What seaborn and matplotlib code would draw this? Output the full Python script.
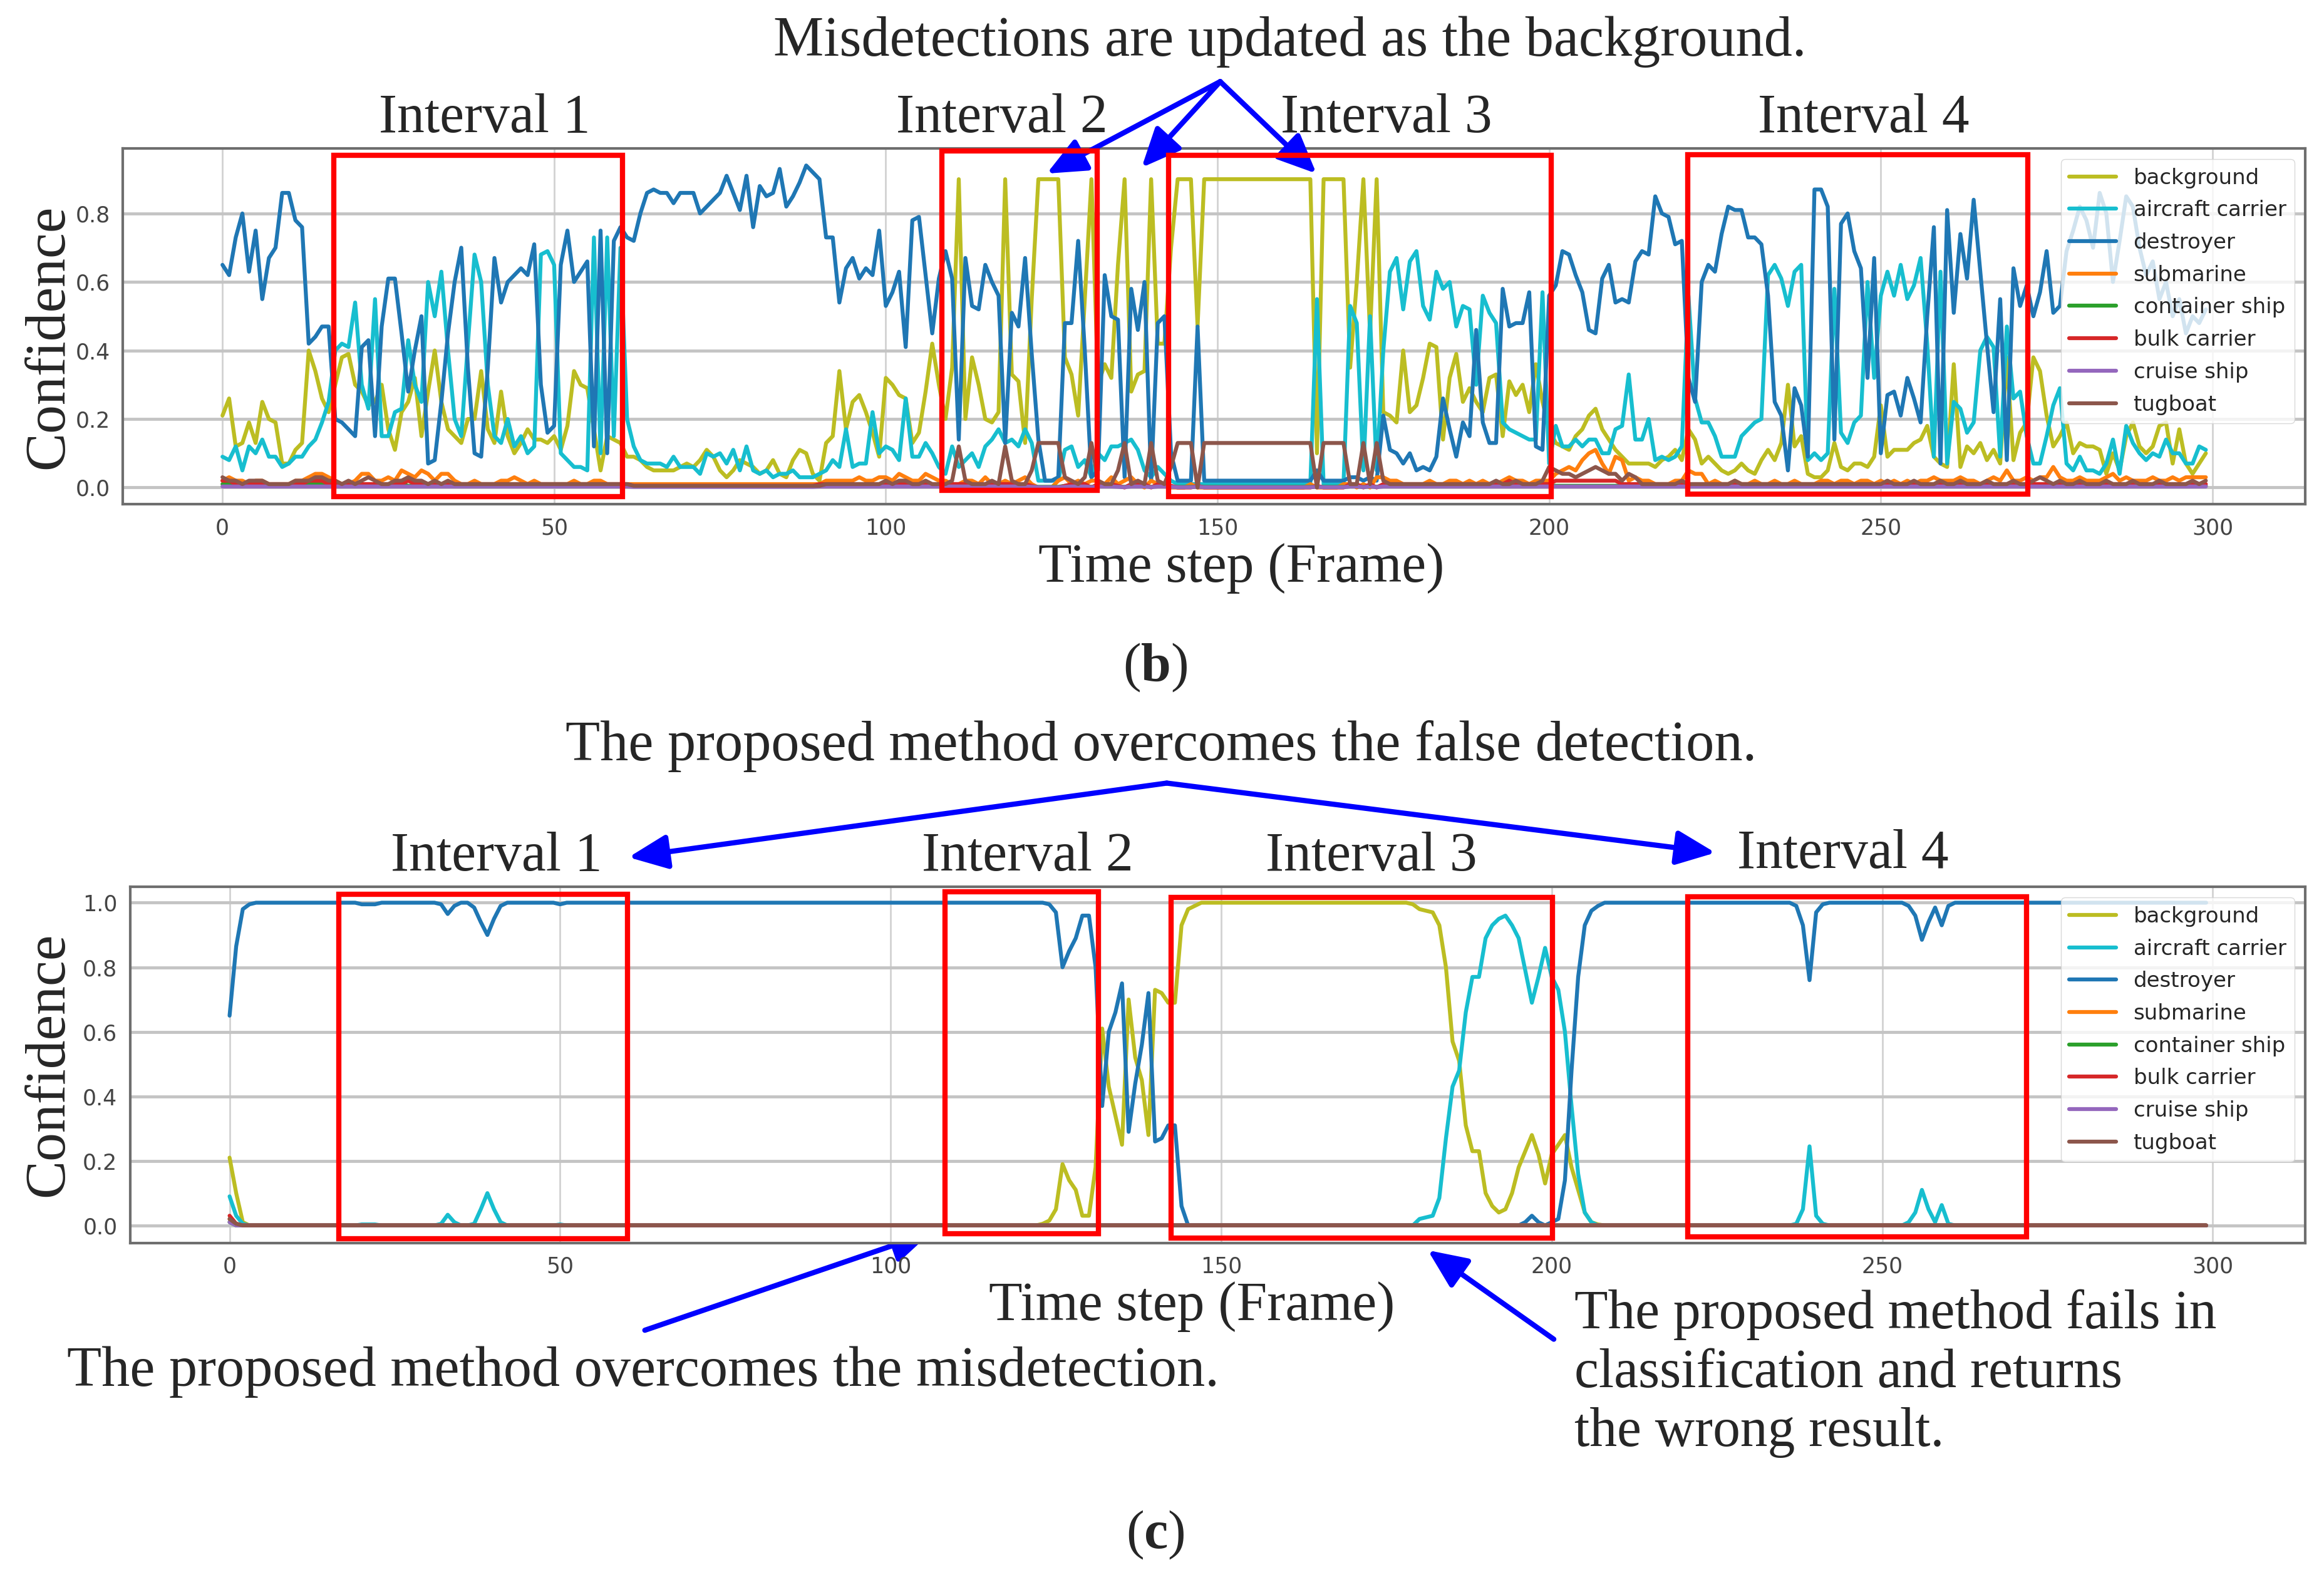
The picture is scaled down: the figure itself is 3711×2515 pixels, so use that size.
import numpy as np
import pandas as pd
import matplotlib
matplotlib.use("Agg")
import matplotlib.pyplot as plt
import seaborn as sns
from matplotlib.patches import Rectangle

sns.set_style("white")
plt.rcParams['font.family'] = ['DejaVu Sans']
plt.rcParams['mathtext.fontset'] = 'custom'
plt.rcParams['mathtext.rm'] = 'Liberation Serif'
plt.rcParams['mathtext.bf'] = 'Liberation Serif:bold'

#classes in legend order, tab10 colours as in the original plot
classes = ["background", "aircraft carrier", "destroyer", "submarine",
           "container ship", "bulk carrier", "cruise ship", "tugboat"]
class_colors = ["#bcbd22", "#17becf", "#1f77b4", "#ff7f0e",
                "#2ca02c", "#d62728", "#9467bd", "#8c564b"]

frames = list(range(300))
x_ticks = [0, 50, 100, 150, 200, 250, 300]

#panel (b): confidence per frame, in percent
b_background = [
    21, 26, 12, 13, 19, 13, 25, 20, 19, 7, 7, 11, 13, 40, 34, 26, 22, 30, 38, 39,
    30, 28, 24, 25, 30, 17, 11, 22, 25, 32, 15, 28, 40, 25, 17, 15, 13, 20, 20, 34,
    17, 13, 28, 15, 10, 13, 17, 14, 14, 13, 15, 11, 18, 34, 30, 29, 17, 5, 15, 14,
    13, 9, 9, 8, 6, 5, 5, 5, 5, 6, 7, 6, 8, 11, 9, 5, 3, 5, 8, 7,
    6, 4, 5, 8, 4, 3, 8, 11, 10, 4, 2, 13, 15, 34, 17, 25, 27, 22, 16, 9,
    32, 30, 27, 26, 13, 16, 28, 42, 30, 20, 35, 90, 20, 38, 30, 20, 19, 22, 90, 33,
    31, 13, 55, 90, 90, 90, 90, 38, 33, 21, 55, 90, 30, 36, 32, 65, 90, 28, 33, 34,
    90, 42, 42, 70, 90, 90, 90, 47, 90, 90, 90, 90, 90, 90, 90, 90, 90, 90, 90, 90,
    90, 90, 90, 90, 90, 10, 90, 90, 90, 90, 35, 60, 90, 45, 90, 22, 21, 19, 40, 22,
    24, 32, 42, 41, 14, 32, 39, 25, 29, 25, 22, 32, 33, 15, 31, 27, 30, 22, 36, 25,
    17, 13, 12, 11, 15, 17, 21, 23, 17, 14, 11, 9, 7, 7, 7, 7, 6, 8, 9, 11,
    8, 17, 14, 7, 9, 7, 5, 4, 5, 7, 5, 4, 8, 11, 8, 13, 30, 12, 15, 4,
    3, 3, 5, 13, 6, 5, 7, 7, 6, 9, 24, 9, 11, 11, 11, 13, 14, 18, 9, 7,
    6, 36, 6, 12, 10, 13, 8, 11, 7, 38, 8, 16, 19, 38, 34, 21, 12, 15, 19, 10,
    13, 12, 12, 11, 4, 10, 5, 15, 19, 12, 10, 12, 18, 19, 7, 17, 7, 4, 7, 10]
b_carrier = [
    9, 8, 12, 5, 12, 10, 14, 9, 9, 6, 7, 9, 9, 12, 14, 19, 25, 40, 42, 41,
    54, 30, 23, 55, 15, 15, 22, 23, 43, 30, 25, 60, 50, 63, 40, 20, 15, 42, 68, 60,
    30, 15, 13, 20, 12, 15, 10, 12, 68, 69, 65, 10, 8, 6, 6, 5, 73, 10, 73, 15,
    70, 20, 12, 8, 7, 7, 7, 6, 9, 6, 6, 6, 4, 10, 9, 10, 7, 11, 5, 12,
    5, 4, 5, 3, 4, 4, 5, 3, 3, 3, 4, 5, 8, 6, 17, 6, 7, 7, 22, 10,
    12, 11, 8, 26, 9, 9, 13, 10, 6, 4, 12, 6, 8, 10, 6, 12, 14, 17, 13, 14,
    12, 17, 13, 2, 2, 2, 2, 11, 12, 6, 8, 3, 10, 8, 12, 12, 13, 14, 11, 5,
    3, 6, 4, 2, 1, 1, 1, 1, 1, 1, 1, 1, 1, 1, 1, 1, 1, 1, 1, 1,
    1, 1, 1, 1, 1, 55, 1, 1, 1, 1, 53, 48, 5, 50, 5, 40, 63, 67, 52, 66,
    69, 53, 49, 63, 58, 60, 47, 53, 52, 30, 56, 51, 48, 19, 17, 16, 15, 14, 14, 57,
    7, 18, 12, 12, 14, 12, 14, 14, 10, 10, 17, 18, 33, 14, 14, 20, 8, 9, 8, 9,
    12, 56, 26, 19, 19, 15, 9, 9, 9, 15, 17, 19, 20, 62, 65, 61, 53, 63, 65, 8,
    10, 8, 10, 58, 16, 13, 19, 21, 60, 32, 56, 63, 56, 65, 55, 59, 67, 42, 9, 63,
    7, 25, 23, 16, 19, 40, 44, 41, 9, 47, 26, 28, 15, 7, 7, 15, 24, 29, 7, 5,
    9, 5, 5, 4, 7, 14, 4, 18, 13, 10, 8, 10, 9, 14, 10, 10, 7, 7, 12, 11]
b_destroyer = [
    65, 62, 73, 80, 63, 75, 55, 67, 70, 86, 86, 78, 76, 42, 44, 47, 47, 20, 19, 17,
    15, 41, 43, 15, 47, 61, 61, 45, 28, 40, 50, 7, 8, 25, 45, 60, 70, 35, 10, 9,
    35, 67, 54, 60, 62, 64, 62, 71, 30, 16, 18, 65, 75, 60, 63, 66, 12, 75, 10, 72,
    76, 73, 72, 80, 86, 87, 86, 86, 83, 86, 86, 86, 80, 82, 84, 86, 91, 86, 81, 91,
    76, 88, 85, 86, 93, 82, 85, 89, 94, 92, 90, 73, 73, 54, 64, 67, 61, 64, 62, 75,
    53, 57, 63, 41, 78, 79, 62, 45, 61, 69, 61, 14, 67, 53, 52, 65, 60, 56, 13, 51,
    47, 67, 39, 14, 2, 2, 3, 48, 48, 72, 40, 3, 5, 62, 50, 49, 3, 58, 46, 60,
    2, 48, 50, 10, 2, 2, 2, 47, 2, 2, 2, 2, 2, 2, 2, 2, 2, 2, 2, 2,
    2, 2, 2, 2, 2, 5, 2, 2, 2, 2, 3, 3, 2, 3, 2, 21, 11, 10, 7, 10,
    5, 6, 5, 9, 26, 17, 9, 19, 15, 46, 19, 13, 13, 58, 47, 48, 48, 57, 12, 11,
    56, 59, 69, 68, 62, 57, 46, 45, 61, 65, 54, 55, 54, 66, 69, 68, 85, 80, 79, 71,
    72, 32, 25, 60, 65, 63, 74, 82, 81, 81, 73, 73, 71, 56, 25, 21, 5, 29, 24, 9,
    87, 87, 82, 14, 77, 80, 69, 64, 32, 67, 10, 27, 28, 21, 32, 26, 19, 50, 76, 7,
    81, 51, 74, 61, 84, 63, 42, 22, 55, 8, 64, 53, 59, 50, 57, 69, 51, 53, 69, 75,
    82, 78, 70, 86, 80, 60, 72, 85, 82, 70, 62, 66, 55, 60, 50, 55, 45, 50, 48, 52]
b_submarine = [
    2, 3, 2, 2, 1, 2, 2, 1, 1, 1, 1, 2, 2, 3, 4, 4, 3, 2, 1, 1,
    2, 4, 4, 2, 2, 3, 2, 5, 4, 3, 5, 4, 2, 4, 4, 2, 1, 1, 2, 1,
    1, 1, 2, 2, 3, 2, 1, 2, 1, 1, 1, 1, 1, 2, 1, 1, 2, 2, 1, 1,
    1, 1, 1, 1, 1, 1, 1, 1, 1, 1, 1, 1, 1, 1, 1, 1, 1, 1, 1, 1,
    1, 1, 1, 1, 1, 1, 1, 1, 1, 1, 1, 2, 2, 2, 2, 2, 3, 2, 2, 3,
    3, 2, 4, 3, 2, 2, 4, 3, 2, 2, 1, 1, 2, 2, 1, 3, 1, 1, 2, 1,
    2, 3, 1, 0, 0, 0, 2, 3, 1, 2, 1, 2, 2, 1, 3, 1, 2, 3, 1, 0,
    2, 1, 1, 0, 0, 0, 1, 0, 0, 0, 0, 0, 0, 0, 0, 0, 0, 0, 0, 0,
    0, 0, 0, 0, 1, 0, 0, 0, 0, 1, 1, 0, 1, 0, 3, 3, 2, 2, 1, 1,
    1, 1, 2, 1, 1, 2, 2, 1, 2, 1, 2, 1, 1, 2, 3, 2, 2, 1, 2, 2,
    2, 4, 5, 6, 5, 8, 10, 11, 7, 4, 9, 8, 2, 3, 2, 2, 1, 1, 1, 2,
    2, 5, 4, 4, 1, 2, 1, 1, 2, 1, 1, 2, 1, 1, 2, 1, 1, 2, 1, 1,
    1, 2, 2, 1, 2, 2, 1, 2, 2, 1, 2, 1, 2, 1, 2, 1, 2, 2, 3, 2,
    2, 2, 3, 2, 2, 1, 2, 3, 2, 5, 2, 2, 3, 2, 3, 3, 6, 3, 2, 2,
    3, 2, 2, 2, 3, 4, 2, 3, 2, 2, 2, 3, 2, 2, 3, 2, 3, 3, 3, 3]
b_container = [
    1, 1, 0.5, 0.5, 0.5, 0.5, 0.5, 0.5, 0.5, 0.5, 0.5, 0.5, 0.5, 1, 1, 1, 0.5, 0.5, 0.5, 0.5,
    0.5, 0.5, 0.5, 0.5, 0.5, 0.5, 0.5, 1, 0.5, 0.5, 0.5, 0.5, 0.5, 0.5, 0.5, 0.5, 0.5, 0.5, 0.5, 0.5,
    0.5, 0.5, 0.5, 0.5, 0.5, 0.5, 0.5, 0.5, 0.5, 0.5, 0.5, 0.5, 0.5, 0.5, 0.5, 0.5, 0.5, 0.5, 0.5, 0.5,
    0.3, 0.3, 0.3, 0.3, 0.3, 0.3, 0.3, 0.3, 0.3, 0.3, 0.3, 0.3, 0.3, 0.3, 0.3, 0.3, 0.3, 0.3, 0.3, 0.3,
    0.3, 0.3, 0.3, 0.3, 0.3, 0.3, 0.3, 0.3, 0.3, 0.3, 0.3, 0.5, 0.5, 0.5, 0.5, 0.5, 0.5, 0.5, 0.5, 0.5,
    0.5, 0.5, 0.5, 0.5, 0.5, 0.5, 0.5, 0.5, 0.5, 0.5, 0.5, 0.3, 0.5, 0.5, 0.5, 0.5, 0.5, 0.5, 0.3, 0.5,
    0.5, 0.5, 0.3, 0.2, 0.2, 0.2, 0.2, 0.5, 0.5, 0.5, 0.3, 0.2, 0.5, 0.5, 0.5, 0.3, 0.2, 0.5, 0.5, 0.5,
    0.2, 0.5, 0.5, 0.3, 0.2, 0.2, 0.2, 0.3, 0.2, 0.2, 0.2, 0.2, 0.2, 0.2, 0.2, 0.2, 0.2, 0.2, 0.2, 0.2,
    0.2, 0.2, 0.2, 0.2, 0.2, 0.3, 0.2, 0.2, 0.2, 0.2, 0.3, 0.3, 0.2, 0.3, 0.2, 0.5, 0.5, 0.5, 0.5, 0.5,
    0.5, 0.5, 0.5, 0.5, 0.5, 0.5, 0.5, 0.5, 0.5, 0.5, 0.5, 0.5, 0.5, 0.5, 0.5, 0.5, 0.5, 0.5, 0.5, 0.5,
    0.5, 0.5, 0.5, 0.5, 0.5, 0.5, 0.5, 0.5, 0.5, 0.5, 0.5, 0.5, 0.5, 0.5, 0.5, 0.5, 0.5, 0.5, 0.5, 0.5,
    0.5, 0.5, 0.5, 0.5, 0.5, 0.5, 0.5, 0.5, 0.5, 0.5, 0.5, 0.5, 0.5, 0.5, 0.5, 0.5, 0.5, 0.5, 0.5, 0.5,
    0.5, 0.5, 0.5, 0.5, 0.5, 0.5, 0.5, 0.5, 0.5, 0.5, 0.5, 0.5, 0.5, 0.5, 0.5, 0.5, 0.5, 0.5, 0.5, 0.5,
    0.5, 0.5, 0.5, 0.5, 0.5, 0.5, 0.5, 0.5, 0.5, 0.5, 0.5, 0.5, 0.5, 0.5, 0.5, 0.5, 0.5, 0.5, 0.5, 0.5,
    0.5, 0.5, 0.5, 0.5, 0.5, 0.5, 0.5, 0.5, 0.5, 0.5, 0.5, 0.5, 0.5, 0.5, 0.5, 0.5, 0.5, 0.5, 0.5, 0.5]
b_bulk = [
    2, 2, 1, 1, 1, 1, 1, 1, 1, 1, 1, 1, 1, 2, 2, 2, 1, 1, 1, 1,
    1, 1, 1, 1, 1, 1, 1, 1, 2, 1, 1, 1, 1, 1, 1, 1, 1, 1, 1, 1,
    1, 1, 1, 1, 1, 1, 1, 1, 1, 1, 1, 1, 1, 1, 1, 1, 1, 1, 1, 1,
    1, 1, 0.5, 0.5, 0.5, 0.5, 0.5, 0.5, 0.5, 0.5, 0.5, 0.5, 0.5, 0.5, 0.5, 0.5, 0.5, 0.5, 0.5, 0.5,
    0.5, 0.5, 0.5, 0.5, 0.5, 0.5, 0.5, 0.5, 0.5, 0.5, 1, 1, 1, 1, 1, 1, 1, 1, 1, 1,
    1, 1, 1, 1, 1, 1, 1, 1, 1, 1, 1, 1, 1, 1, 1, 1, 1, 1, 1, 1,
    1, 1, 0.5, 0, 0, 0, 0, 0.5, 1, 1, 1, 0, 1, 1, 1, 0.5, 0, 1, 1, 1,
    0, 1, 1, 0.5, 0, 0, 0, 0.5, 0, 0, 0, 0, 0, 0, 0, 0, 0, 0, 0, 0,
    0, 0, 0, 0, 0, 0.5, 0, 0, 0, 0, 1, 1, 0, 1, 0, 1, 1, 1, 1, 1,
    1, 1, 1, 1, 1, 1, 1, 1, 1, 1, 1, 1, 1, 1, 2, 1, 1, 1, 1, 1,
    1, 2, 2, 2, 2, 2, 2, 2, 2, 2, 2, 1, 1, 1, 1, 1, 1, 1, 1, 1,
    1, 1, 1, 1, 1, 1, 1, 1, 1, 1, 1, 1, 1, 1, 1, 1, 1, 1, 1, 1,
    1, 1, 1, 1, 1, 1, 1, 1, 1, 1, 1, 1, 1, 1, 1, 1, 1, 1, 1, 1,
    1, 1, 1, 1, 1, 1, 1, 1, 1, 1, 1, 1, 1, 1, 1, 1, 1, 1, 1, 1,
    1, 1, 1, 1, 1, 1, 1, 1, 1, 1, 1, 1, 1, 1, 1, 1, 1, 1, 1, 1]
b_cruise = [
    0.3, 0.3, 0.3, 0.3, 0.3, 0.3, 0.3, 0.3, 0.3, 0.3, 0.3, 0.3, 0.3, 0.3, 0.3, 0.3, 0.3, 0.3, 0.3, 0.3,
    0.3, 0.3, 0.3, 0.3, 0.3, 0.3, 0.3, 0.3, 0.3, 0.3, 0.3, 0.3, 0.3, 0.3, 0.3, 0.3, 0.3, 0.3, 0.3, 0.3,
    0.3, 0.3, 0.3, 0.3, 0.3, 0.3, 0.3, 0.3, 0.3, 0.3, 0.3, 0.3, 0.3, 0.3, 0.3, 0.3, 0.3, 0.3, 0.3, 0.3,
    0.3, 0.3, 0.2, 0.2, 0.2, 0.2, 0.2, 0.2, 0.2, 0.2, 0.2, 0.2, 0.2, 0.2, 0.2, 0.2, 0.2, 0.2, 0.2, 0.2,
    0.2, 0.2, 0.2, 0.2, 0.2, 0.2, 0.2, 0.2, 0.2, 0.2, 0.3, 0.3, 0.3, 0.3, 0.3, 0.3, 0.3, 0.3, 0.3, 0.3,
    0.3, 0.3, 0.3, 0.3, 0.3, 0.3, 0.3, 0.3, 0.3, 0.3, 0.3, 0.3, 0.3, 0.3, 0.3, 0.3, 0.3, 0.3, 0.3, 0.3,
    0.3, 0.3, 0.2, 0.1, 0.1, 0.1, 0.1, 0.2, 0.3, 0.3, 0.3, 0.1, 0.3, 0.3, 0.3, 0.2, 0.1, 0.3, 0.3, 0.3,
    0.1, 0.3, 0.3, 0.2, 0.1, 0.1, 0.1, 0.2, 0.1, 0.1, 0.1, 0.1, 0.1, 0.1, 0.1, 0.1, 0.1, 0.1, 0.1, 0.1,
    0.1, 0.1, 0.1, 0.1, 0.1, 0.2, 0.1, 0.1, 0.1, 0.1, 0.3, 0.3, 0.1, 0.3, 0.1, 0.3, 0.3, 0.3, 0.3, 0.3,
    0.3, 0.3, 0.3, 0.3, 0.3, 0.3, 0.3, 0.3, 0.3, 0.3, 0.3, 0.3, 0.3, 0.3, 0.3, 0.3, 0.3, 0.3, 0.3, 0.3,
    0.3, 0.3, 0.3, 0.3, 0.3, 0.3, 0.3, 0.3, 0.3, 0.3, 0.3, 0.3, 0.3, 0.3, 0.3, 0.3, 0.3, 0.3, 0.3, 0.3,
    0.3, 0.3, 0.3, 0.3, 0.3, 0.3, 0.3, 0.3, 0.3, 0.3, 0.3, 0.3, 0.3, 0.3, 0.3, 0.3, 0.3, 0.3, 0.3, 0.3,
    0.3, 0.3, 0.3, 0.3, 0.3, 0.3, 0.3, 0.3, 0.3, 0.3, 0.3, 0.3, 0.3, 0.3, 0.3, 0.3, 0.3, 0.3, 0.3, 0.3,
    0.3, 0.3, 0.3, 0.3, 0.3, 0.3, 0.3, 0.3, 0.3, 0.3, 0.3, 0.3, 0.3, 0.3, 0.3, 0.3, 0.3, 0.3, 0.3, 0.3,
    0.3, 0.3, 0.3, 0.3, 0.3, 0.3, 0.3, 0.3, 0.3, 0.3, 0.3, 0.3, 0.3, 0.3, 0.3, 0.3, 0.3, 0.3, 0.3, 0.3]
b_tugboat = [
    3, 2, 2, 1, 2, 2, 2, 1, 1, 1, 1, 2, 2, 2, 3, 3, 2, 2, 1, 2,
    1, 2, 3, 2, 1, 1, 2, 2, 3, 2, 2, 1, 2, 1, 2, 1, 1, 1, 1, 1,
    1, 1, 1, 1, 1, 1, 1, 1, 1, 1, 1, 1, 1, 1, 1, 1, 1, 1, 1, 1,
    1, 1, 0.5, 0.5, 0.5, 0.5, 0.5, 0.5, 0.5, 0.5, 0.5, 0.5, 0.5, 0.5, 0.5, 0.5, 0.5, 0.5, 0.5, 0.5,
    0.5, 0.5, 0.5, 0.5, 0.5, 0.5, 0.5, 0.5, 0.5, 0.5, 0.5, 1, 1, 1, 1, 1, 1, 1, 1, 1,
    2, 1, 2, 2, 1, 1, 2, 1, 1, 1, 2, 12, 2, 1, 1, 1, 2, 1, 12, 2,
    1, 1, 5, 13, 13, 13, 13, 3, 2, 1, 3, 13, 2, 1, 1, 5, 13, 1, 2, 1,
    13, 2, 1, 6, 13, 13, 13, 0, 13, 13, 13, 13, 13, 13, 13, 13, 13, 13, 13, 13,
    13, 13, 13, 13, 13, 0, 13, 13, 13, 13, 1, 1, 13, 1, 13, 2, 1, 1, 1, 1,
    1, 1, 1, 1, 1, 1, 1, 1, 1, 1, 1, 1, 2, 1, 1, 2, 1, 1, 1, 2,
    6, 5, 4, 4, 3, 4, 5, 6, 5, 4, 4, 2, 4, 3, 1, 1, 1, 1, 1, 1,
    2, 1, 1, 1, 1, 1, 1, 1, 2, 1, 1, 1, 1, 1, 1, 1, 1, 1, 1, 1,
    1, 1, 1, 1, 1, 1, 1, 1, 1, 1, 1, 2, 1, 1, 1, 2, 1, 1, 1, 2,
    1, 1, 2, 1, 1, 1, 2, 1, 1, 1, 2, 1, 1, 2, 3, 2, 1, 2, 1, 1,
    2, 1, 1, 1, 2, 1, 1, 1, 2, 1, 1, 1, 2, 1, 1, 1, 1, 2, 1, 2]

#panel (c): confidence per frame, in percent
c_background = [
    21, 10, 1, 0, 0, 0, 0, 0, 0, 0, 0, 0, 0, 0, 0, 0, 0, 0, 0, 0,
    0, 0, 0, 0, 0, 0, 0, 0, 0, 0, 0, 0, 0, 0, 0, 0, 0, 0, 0, 0,
    0, 0, 0, 0, 0, 0, 0, 0, 0, 0, 0, 0, 0, 0, 0, 0, 0, 0, 0, 0,
    0, 0, 0, 0, 0, 0, 0, 0, 0, 0, 0, 0, 0, 0, 0, 0, 0, 0, 0, 0,
    0, 0, 0, 0, 0, 0, 0, 0, 0, 0, 0, 0, 0, 0, 0, 0, 0, 0, 0, 0,
    0, 0, 0, 0, 0, 0, 0, 0, 0, 0, 0, 0, 0, 0, 0, 0, 0, 0, 0, 0,
    0, 0, 0, 0.5, 1.5, 5, 19, 14, 11, 3, 3, 18, 61, 43, 34, 25, 70, 52, 45, 28,
    73, 72, 69, 69, 93, 98, 99, 100, 100, 100, 100, 100, 100, 100, 100, 100, 100, 100, 100, 100,
    100, 100, 100, 100, 100, 100, 100, 100, 100, 100, 100, 100, 100, 100, 100, 100, 100, 100, 100, 99.5,
    98, 97.5, 97, 93, 80, 57, 51, 31, 23, 23, 10, 6, 4, 5, 10, 18, 23, 28, 22, 13,
    22, 25, 28, 18, 11, 4, 1, 0.3, 0, 0, 0, 0, 0, 0, 0, 0, 0, 0, 0, 0,
    0, 0, 0, 0, 0, 0, 0, 0, 0, 0, 0, 0, 0, 0, 0, 0, 0, 0, 0, 0,
    0, 0, 0, 0, 0, 0, 0, 0, 0, 0, 0, 0, 0, 0, 0, 0, 0, 0, 0, 0,
    0, 0, 0, 0, 0, 0, 0, 0, 0, 0, 0, 0, 0, 0, 0, 0, 0, 0, 0, 0,
    0, 0, 0, 0, 0, 0, 0, 0, 0, 0, 0, 0, 0, 0, 0, 0, 0, 0, 0, 0]
c_carrier = [
    9, 3, 0.5, 0, 0, 0, 0, 0, 0, 0, 0, 0, 0, 0, 0, 0, 0, 0, 0, 0,
    0.3, 0.3, 0.3, 0, 0, 0, 0, 0, 0, 0, 0, 0, 0.5, 3.3, 1, 0, 0, 0.5, 5, 10,
    5, 1, 0, 0, 0, 0, 0, 0, 0, 0, 0.3, 0, 0, 0, 0, 0, 0, 0, 0, 0,
    0, 0, 0, 0, 0, 0, 0, 0, 0, 0, 0, 0, 0, 0, 0, 0, 0, 0, 0, 0,
    0, 0, 0, 0, 0, 0, 0, 0, 0, 0, 0, 0, 0, 0, 0, 0, 0, 0, 0, 0,
    0, 0, 0, 0, 0, 0, 0, 0, 0, 0, 0, 0, 0, 0, 0, 0, 0, 0, 0, 0,
    0, 0, 0, 0, 0, 0, 0, 0, 0, 0, 0, 0, 0, 0, 0, 0, 0, 0, 0, 0,
    0, 0, 0, 0, 0, 0, 0, 0, 0, 0, 0, 0, 0, 0, 0, 0, 0, 0, 0, 0,
    0, 0, 0, 0, 0, 0, 0, 0, 0, 0, 0, 0, 0, 0, 0, 0, 0, 0, 0, 0,
    2, 2.5, 3, 8.5, 27, 43, 48, 66, 77, 77, 89, 93, 95, 96, 93, 89, 79, 69, 77, 86,
    77, 73, 60, 37, 16, 4, 1, 0, 0, 0, 0, 0, 0, 0, 0, 0, 0, 0, 0, 0,
    0, 0, 0, 0, 0, 0, 0, 0, 0, 0, 0, 0, 0, 0, 0, 0, 0, 0.5, 5, 24.5,
    3, 0.5, 0, 0, 0, 0, 0, 0, 0, 0, 0, 0, 0, 0, 1, 4, 11, 5, 1, 6.3,
    0.5, 0, 0, 0, 0, 0, 0, 0, 0, 0, 0, 0, 0, 0, 0, 0, 0, 0, 0, 0,
    0, 0, 0, 0, 0, 0, 0, 0, 0, 0, 0, 0, 0, 0, 0, 0, 0, 0, 0, 0]
c_destroyer = [
    65, 86.5, 98, 99.5, 100, 100, 100, 100, 100, 100, 100, 100, 100, 100, 100, 100, 100, 100, 100, 100,
    99.5, 99.5, 99.5, 100, 100, 100, 100, 100, 100, 100, 100, 100, 99.5, 96.5, 99, 100, 100, 98.5, 94, 90,
    95, 99, 100, 100, 100, 100, 100, 100, 100, 100, 99.5, 100, 100, 100, 100, 100, 100, 100, 100, 100,
    100, 100, 100, 100, 100, 100, 100, 100, 100, 100, 100, 100, 100, 100, 100, 100, 100, 100, 100, 100,
    100, 100, 100, 100, 100, 100, 100, 100, 100, 100, 100, 100, 100, 100, 100, 100, 100, 100, 100, 100,
    100, 100, 100, 100, 100, 100, 100, 100, 100, 100, 100, 100, 100, 100, 100, 100, 100, 100, 100, 100,
    100, 100, 100, 100, 99.5, 97, 80, 85, 89, 96, 96, 80, 37, 60, 66, 75, 29, 44, 56, 72,
    26, 27, 31, 31, 6, 0, 0, 0, 0, 0, 0, 0, 0, 0, 0, 0, 0, 0, 0, 0,
    0, 0, 0, 0, 0, 0, 0, 0, 0, 0, 0, 0, 0, 0, 0, 0, 0, 0, 0, 0,
    0, 0, 0, 0, 0, 0, 0, 0, 0, 0, 0, 0, 0, 0, 0, 0, 1, 3, 1, 0,
    1, 2, 14, 48, 77, 93, 97.5, 99, 100, 100, 100, 100, 100, 100, 100, 100, 100, 100, 100, 100,
    100, 100, 100, 100, 100, 100, 100, 100, 100, 100, 100, 100, 100, 100, 100, 100, 100, 99, 93, 76,
    97, 99.5, 100, 100, 100, 100, 100, 100, 100, 100, 100, 100, 100, 100, 99, 96, 88.5, 94, 98.5, 93,
    99, 100, 100, 100, 100, 100, 100, 100, 100, 100, 100, 100, 100, 100, 100, 100, 100, 100, 100, 100,
    100, 100, 100, 100, 100, 100, 100, 100, 100, 100, 100, 100, 100, 100, 100, 100, 100, 100, 100, 100]
c_submarine = [
    2, 0.5, 0, 0, 0, 0, 0, 0, 0, 0, 0, 0, 0, 0, 0, 0, 0, 0, 0, 0, 0, 0, 0, 0, 0, 0, 0, 0, 0, 0,
    0, 0, 0, 0, 0, 0, 0, 0, 0, 0, 0, 0, 0, 0, 0, 0, 0, 0, 0, 0, 0, 0, 0, 0, 0, 0, 0, 0, 0, 0,
    0, 0, 0, 0, 0, 0, 0, 0, 0, 0, 0, 0, 0, 0, 0, 0, 0, 0, 0, 0, 0, 0, 0, 0, 0, 0, 0, 0, 0, 0,
    0, 0, 0, 0, 0, 0, 0, 0, 0, 0, 0, 0, 0, 0, 0, 0, 0, 0, 0, 0, 0, 0, 0, 0, 0, 0, 0, 0, 0, 0,
    0, 0, 0, 0, 0, 0, 0, 0, 0, 0, 0, 0, 0, 0, 0, 0, 0, 0, 0, 0, 0, 0, 0, 0, 0, 0, 0, 0, 0, 0,
    0, 0, 0, 0, 0, 0, 0, 0, 0, 0, 0, 0, 0, 0, 0, 0, 0, 0, 0, 0, 0, 0, 0, 0, 0, 0, 0, 0, 0, 0,
    0, 0, 0, 0, 0, 0, 0, 0, 0, 0, 0, 0, 0, 0, 0, 0, 0, 0, 0, 0, 0, 0, 0, 0, 0, 0, 0, 0, 0, 0,
    0, 0, 0, 0, 0, 0, 0, 0, 0, 0, 0, 0, 0, 0, 0, 0, 0, 0, 0, 0, 0, 0, 0, 0, 0, 0, 0, 0, 0, 0,
    0, 0, 0, 0, 0, 0, 0, 0, 0, 0, 0, 0, 0, 0, 0, 0, 0, 0, 0, 0, 0, 0, 0, 0, 0, 0, 0, 0, 0, 0,
    0, 0, 0, 0, 0, 0, 0, 0, 0, 0, 0, 0, 0, 0, 0, 0, 0, 0, 0, 0, 0, 0, 0, 0, 0, 0, 0, 0, 0, 0]
c_container = [
    1, 0, 0, 0, 0, 0, 0, 0, 0, 0, 0, 0, 0, 0, 0, 0, 0, 0, 0, 0, 0, 0, 0, 0, 0, 0, 0, 0, 0, 0,
    0, 0, 0, 0, 0, 0, 0, 0, 0, 0, 0, 0, 0, 0, 0, 0, 0, 0, 0, 0, 0, 0, 0, 0, 0, 0, 0, 0, 0, 0,
    0, 0, 0, 0, 0, 0, 0, 0, 0, 0, 0, 0, 0, 0, 0, 0, 0, 0, 0, 0, 0, 0, 0, 0, 0, 0, 0, 0, 0, 0,
    0, 0, 0, 0, 0, 0, 0, 0, 0, 0, 0, 0, 0, 0, 0, 0, 0, 0, 0, 0, 0, 0, 0, 0, 0, 0, 0, 0, 0, 0,
    0, 0, 0, 0, 0, 0, 0, 0, 0, 0, 0, 0, 0, 0, 0, 0, 0, 0, 0, 0, 0, 0, 0, 0, 0, 0, 0, 0, 0, 0,
    0, 0, 0, 0, 0, 0, 0, 0, 0, 0, 0, 0, 0, 0, 0, 0, 0, 0, 0, 0, 0, 0, 0, 0, 0, 0, 0, 0, 0, 0,
    0, 0, 0, 0, 0, 0, 0, 0, 0, 0, 0, 0, 0, 0, 0, 0, 0, 0, 0, 0, 0, 0, 0, 0, 0, 0, 0, 0, 0, 0,
    0, 0, 0, 0, 0, 0, 0, 0, 0, 0, 0, 0, 0, 0, 0, 0, 0, 0, 0, 0, 0, 0, 0, 0, 0, 0, 0, 0, 0, 0,
    0, 0, 0, 0, 0, 0, 0, 0, 0, 0, 0, 0, 0, 0, 0, 0, 0, 0, 0, 0, 0, 0, 0, 0, 0, 0, 0, 0, 0, 0,
    0, 0, 0, 0, 0, 0, 0, 0, 0, 0, 0, 0, 0, 0, 0, 0, 0, 0, 0, 0, 0, 0, 0, 0, 0, 0, 0, 0, 0, 0]
c_bulk = [
    3, 0.5, 0, 0, 0, 0, 0, 0, 0, 0, 0, 0, 0, 0, 0, 0, 0, 0, 0, 0, 0, 0, 0, 0, 0, 0, 0, 0, 0, 0,
    0, 0, 0, 0, 0, 0, 0, 0, 0, 0, 0, 0, 0, 0, 0, 0, 0, 0, 0, 0, 0, 0, 0, 0, 0, 0, 0, 0, 0, 0,
    0, 0, 0, 0, 0, 0, 0, 0, 0, 0, 0, 0, 0, 0, 0, 0, 0, 0, 0, 0, 0, 0, 0, 0, 0, 0, 0, 0, 0, 0,
    0, 0, 0, 0, 0, 0, 0, 0, 0, 0, 0, 0, 0, 0, 0, 0, 0, 0, 0, 0, 0, 0, 0, 0, 0, 0, 0, 0, 0, 0,
    0, 0, 0, 0, 0, 0, 0, 0, 0, 0, 0, 0, 0, 0, 0, 0, 0, 0, 0, 0, 0, 0, 0, 0, 0, 0, 0, 0, 0, 0,
    0, 0, 0, 0, 0, 0, 0, 0, 0, 0, 0, 0, 0, 0, 0, 0, 0, 0, 0, 0, 0, 0, 0, 0, 0, 0, 0, 0, 0, 0,
    0, 0, 0, 0, 0, 0, 0, 0, 0, 0, 0, 0, 0, 0, 0, 0, 0, 0, 0, 0, 0, 0, 0, 0, 0, 0, 0, 0, 0, 0,
    0, 0, 0, 0, 0, 0, 0, 0, 0, 0, 0, 0, 0, 0, 0, 0, 0, 0, 0, 0, 0, 0, 0, 0, 0, 0, 0, 0, 0, 0,
    0, 0, 0, 0, 0, 0, 0, 0, 0, 0, 0, 0, 0, 0, 0, 0, 0, 0, 0, 0, 0, 0, 0, 0, 0, 0, 0, 0, 0, 0,
    0, 0, 0, 0, 0, 0, 0, 0, 0, 0, 0, 0, 0, 0, 0, 0, 0, 0, 0, 0, 0, 0, 0, 0, 0, 0, 0, 0, 0, 0]
c_cruise = [
    1, 0, 0, 0, 0, 0, 0, 0, 0, 0, 0, 0, 0, 0, 0, 0, 0, 0, 0, 0, 0, 0, 0, 0, 0, 0, 0, 0, 0, 0,
    0, 0, 0, 0, 0, 0, 0, 0, 0, 0, 0, 0, 0, 0, 0, 0, 0, 0, 0, 0, 0, 0, 0, 0, 0, 0, 0, 0, 0, 0,
    0, 0, 0, 0, 0, 0, 0, 0, 0, 0, 0, 0, 0, 0, 0, 0, 0, 0, 0, 0, 0, 0, 0, 0, 0, 0, 0, 0, 0, 0,
    0, 0, 0, 0, 0, 0, 0, 0, 0, 0, 0, 0, 0, 0, 0, 0, 0, 0, 0, 0, 0, 0, 0, 0, 0, 0, 0, 0, 0, 0,
    0, 0, 0, 0, 0, 0, 0, 0, 0, 0, 0, 0, 0, 0, 0, 0, 0, 0, 0, 0, 0, 0, 0, 0, 0, 0, 0, 0, 0, 0,
    0, 0, 0, 0, 0, 0, 0, 0, 0, 0, 0, 0, 0, 0, 0, 0, 0, 0, 0, 0, 0, 0, 0, 0, 0, 0, 0, 0, 0, 0,
    0, 0, 0, 0, 0, 0, 0, 0, 0, 0, 0, 0, 0, 0, 0, 0, 0, 0, 0, 0, 0, 0, 0, 0, 0, 0, 0, 0, 0, 0,
    0, 0, 0, 0, 0, 0, 0, 0, 0, 0, 0, 0, 0, 0, 0, 0, 0, 0, 0, 0, 0, 0, 0, 0, 0, 0, 0, 0, 0, 0,
    0, 0, 0, 0, 0, 0, 0, 0, 0, 0, 0, 0, 0, 0, 0, 0, 0, 0, 0, 0, 0, 0, 0, 0, 0, 0, 0, 0, 0, 0,
    0, 0, 0, 0, 0, 0, 0, 0, 0, 0, 0, 0, 0, 0, 0, 0, 0, 0, 0, 0, 0, 0, 0, 0, 0, 0, 0, 0, 0, 0]
c_tugboat = [
    2, 0.5, 0, 0, 0, 0, 0, 0, 0, 0, 0, 0, 0, 0, 0, 0, 0, 0, 0, 0, 0, 0, 0, 0, 0, 0, 0, 0, 0, 0,
    0, 0, 0, 0, 0, 0, 0, 0, 0, 0, 0, 0, 0, 0, 0, 0, 0, 0, 0, 0, 0, 0, 0, 0, 0, 0, 0, 0, 0, 0,
    0, 0, 0, 0, 0, 0, 0, 0, 0, 0, 0, 0, 0, 0, 0, 0, 0, 0, 0, 0, 0, 0, 0, 0, 0, 0, 0, 0, 0, 0,
    0, 0, 0, 0, 0, 0, 0, 0, 0, 0, 0, 0, 0, 0, 0, 0, 0, 0, 0, 0, 0, 0, 0, 0, 0, 0, 0, 0, 0, 0,
    0, 0, 0, 0, 0, 0, 0, 0, 0, 0, 0, 0, 0, 0, 0, 0, 0, 0, 0, 0, 0, 0, 0, 0, 0, 0, 0, 0, 0, 0,
    0, 0, 0, 0, 0, 0, 0, 0, 0, 0, 0, 0, 0, 0, 0, 0, 0, 0, 0, 0, 0, 0, 0, 0, 0, 0, 0, 0, 0, 0,
    0, 0, 0, 0, 0, 0, 0, 0, 0, 0, 0, 0, 0, 0, 0, 0, 0, 0, 0, 0, 0, 0, 0, 0, 0, 0, 0, 0, 0, 0,
    0, 0, 0, 0, 0, 0, 0, 0, 0, 0, 0, 0, 0, 0, 0, 0, 0, 0, 0, 0, 0, 0, 0, 0, 0, 0, 0, 0, 0, 0,
    0, 0, 0, 0, 0, 0, 0, 0, 0, 0, 0, 0, 0, 0, 0, 0, 0, 0, 0, 0, 0, 0, 0, 0, 0, 0, 0, 0, 0, 0,
    0, 0, 0, 0, 0, 0, 0, 0, 0, 0, 0, 0, 0, 0, 0, 0, 0, 0, 0, 0, 0, 0, 0, 0, 0, 0, 0, 0, 0, 0]

#interval boxes (frame range and confidence range) for both panels
b_box_left = [16.8, 108.5, 142.6, 220.9]
b_box_right = [60.3, 131.9, 200.3, 272.2]
b_box_bottom = [-0.026, -0.009, -0.026, -0.019]
b_box_top = [0.969, 0.982, 0.969, 0.972]
c_box_left = [16.5, 108.2, 142.4, 220.6]
c_box_right = [60.2, 131.4, 200.1, 271.8]
c_box_bottom = [-0.041, -0.025, -0.039, -0.036]
c_box_top = [1.026, 1.033, 1.016, 1.019]

b_series = [b_background, b_carrier, b_destroyer, b_submarine,
            b_container, b_bulk, b_cruise, b_tugboat]
c_series = [c_background, c_carrier, c_destroyer, c_submarine,
            c_container, c_bulk, c_cruise, c_tugboat]

#check that every series has one value per frame
for name, s in zip(classes * 2, b_series + c_series):
    if len(s) != len(frames):
        raise ValueError(name + " has " + str(len(s)) + " values")


def to_long(series):
    parts = []
    for name, vals in zip(classes, series):
        parts.append(pd.DataFrame({"frame": frames,
                                   "confidence": np.array(vals, dtype=float) / 100.0,
                                   "class": name}))
    return pd.concat(parts, ignore_index=True)


df_b = to_long(b_series)
df_c = to_long(c_series)

fig = plt.figure(figsize=(37.12, 25.15), dpi=100)
ax_b = fig.add_axes([0.0529, 0.6798, 0.9388, 0.2260])
ax_c = fig.add_axes([0.0561, 0.2109, 0.9356, 0.2260])

serif = "Liberation Serif"
txt = 63
sentence = 65

panels = [(ax_b, df_b, (-0.049, 0.99), [0.0, 0.2, 0.4, 0.6, 0.8],
           b_box_left, b_box_right, b_box_bottom, b_box_top),
          (ax_c, df_c, (-0.054, 1.049), [0.0, 0.2, 0.4, 0.6, 0.8, 1.0],
           c_box_left, c_box_right, c_box_bottom, c_box_top)]

for ax, df, ylim, yticks, bl, br, bb, bt in panels:
    sns.lineplot(data=df, x="frame", y="confidence", hue="class",
                 hue_order=classes, palette=class_colors, estimator=None,
                 linewidth=4.5, ax=ax)
    ax.set_xlim(-15, 314)
    ax.set_ylim(*ylim)
    ax.set_xticks(x_ticks)
    ax.set_yticks(yticks)
    ax.set_yticklabels(["%.1f" % t for t in yticks])
    ax.set_xlabel("")
    ax.set_ylabel("")
    ax.set_axisbelow(True)
    ax.yaxis.grid(True, color="#c4c4c4", linewidth=3.5)
    ax.xaxis.grid(True, color="#d2d2d2", linewidth=2)
    for s in ax.spines.values():
        s.set_color("#6e6e6e")
        s.set_linewidth(3)
    ax.tick_params(labelsize=25, colors="#444444", length=6, width=2, pad=9)

    handles, labels = ax.get_legend_handles_labels()
    leg = ax.legend(handles, labels, loc="upper right", fontsize=24.5,
                    framealpha=0.8, edgecolor="#d0d0d0", handlelength=2.2,
                    labelspacing=0.55, borderaxespad=0.5)
    for h in leg.get_lines():
        h.set_linewidth(4.5)
    for t in leg.get_texts():
        t.set_color("#262626")

    #red interval boxes
    for l, r, b, t in zip(bl, br, bb, bt):
        ax.add_patch(Rectangle((l, b), r - l, t - b, fill=False,
                               edgecolor="#ff0000", linewidth=6,
                               zorder=6, clip_on=False))

#panel (b) texts
fig.text(0.5548, 0.9736, "Misdetections are updated as the background.",
         family=serif, fontsize=sentence, ha="center", va="center")
for x, label in zip([0.2085, 0.4311, 0.5963, 0.8017],
                    ["Interval 1", "Interval 2", "Interval 3", "Interval 4"]):
    fig.text(x, 0.9247, label, family=serif, fontsize=txt, ha="center", va="center")
fig.text(0.021, 0.786, "Confidence", family=serif, fontsize=66,
         rotation=90, ha="center", va="center")
fig.text(0.534, 0.639, "Time step (Frame)", family=serif, fontsize=txt,
         ha="center", va="center")
fig.text(0.497, 0.576, r"($\mathbf{b}$)", family=serif, fontsize=62,
         ha="center", va="center")

#panel (c) texts
fig.text(0.4994, 0.5264, "The proposed method overcomes the false detection.",
         family=serif, fontsize=sentence, ha="center", va="center")
for x, y, label in zip([0.2136, 0.442, 0.590, 0.7927],
                       [0.4557, 0.4557, 0.4557, 0.4576],
                       ["Interval 1", "Interval 2", "Interval 3", "Interval 4"]):
    fig.text(x, y, label, family=serif, fontsize=txt, ha="center", va="center")
fig.text(0.021, 0.324, "Confidence", family=serif, fontsize=66,
         rotation=90, ha="center", va="center")
fig.text(0.5128, 0.1704, "Time step (Frame)", family=serif, fontsize=txt,
         ha="center", va="center")
fig.text(0.0287, 0.129, "The proposed method overcomes the misdetection.",
         family=serif, fontsize=sentence, ha="left", va="center")
fig.text(0.6773, 0.128, "The proposed method fails in\nclassification and returns\nthe wrong result.",
         family=serif, fontsize=txt, ha="left", va="center", linespacing=1.21)
fig.text(0.497, 0.0254, r"($\mathbf{c}$)", family=serif, fontsize=62,
         ha="center", va="center")

#blue arrows (start, end) in figure fractions
arrow_start = [(0.5249, 0.9482), (0.5249, 0.9482), (0.5249, 0.9482),
               (0.5019, 0.5028), (0.5019, 0.5028),
               (0.2774, 0.1554), (0.6684, 0.1497)]
arrow_end = [(0.4503, 0.8898), (0.4911, 0.8936), (0.5663, 0.8898),
             (0.2704, 0.4557), (0.7379, 0.4586),
             (0.4005, 0.2175), (0.6142, 0.2062)]
for s, e in zip(arrow_start, arrow_end):
    ax_b.annotate("", xy=e, xytext=s, xycoords="figure fraction",
                  textcoords="figure fraction", annotation_clip=False,
                  arrowprops=dict(arrowstyle="-|>,head_length=0.95,head_width=0.42",
                                  color="#0000ff", lw=6, shrinkA=0, shrinkB=0,
                                  mutation_scale=40))

fig.savefig("out.png", dpi=100)
